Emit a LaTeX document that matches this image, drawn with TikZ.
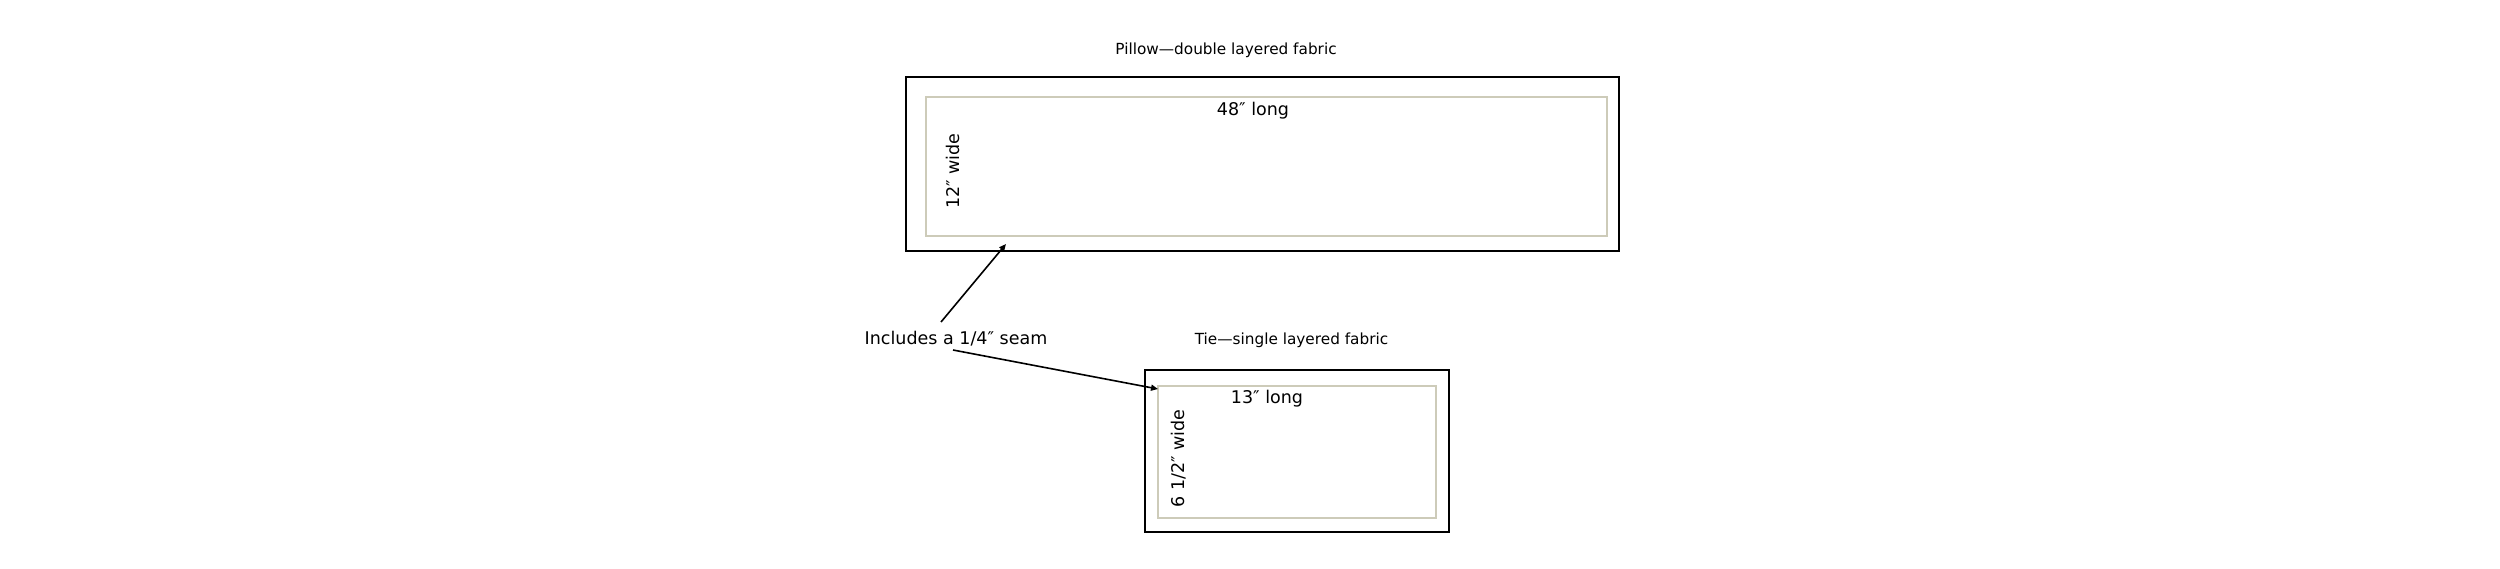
\documentclass[tikz,border=0pt]{standalone}
\usepackage{fontspec}
\setmainfont{DejaVu Sans}
\usetikzlibrary{arrows.meta}
\definecolor{seamline}{RGB}{205,203,185}
\tikzset{
  outerbox/.style={draw=black, line width=2.5pt, inner sep=0pt, fill=none},
  innerbox/.style={draw=seamline, line width=1.2pt, inner sep=0pt},
  titletext/.style={font=\fontsize{15.3}{18}\selectfont, inner sep=0pt, anchor=base},
  labeltext/.style={font=\fontsize{17.5}{21}\selectfont, inner sep=0pt},
  pointer/.style={draw=black, line width=1.6pt, -{Triangle[length=7pt,width=6pt]}}
}
\begin{document}
\begin{tikzpicture}[x=1pt,y=-1pt]
\useasboundingbox (0,0) rectangle (2500,568);
% Pillow
\node[titletext] (pillowTitle) at (1226,54) {Pillow—double layered fabric};
\node[outerbox, minimum width=713pt, minimum height=174pt] (pillowOuter) at (1262.5,164) {};
\node[innerbox, minimum width=681pt, minimum height=139pt] (pillowInner) at (1266.5,166.5) {};
\node[labeltext, anchor=base] (pillowLong) at (1253,115) {48″ long};
\node[labeltext, rotate=90] (pillowWide) at (953,171) {12″ wide};
% Tie
\node[titletext] (tieTitle) at (1291.5,344) {Tie—single layered fabric};
\node[outerbox, minimum width=304pt, minimum height=162pt] (tieOuter) at (1297,451) {};
\node[innerbox, minimum width=278pt, minimum height=132pt] (tieInner) at (1297,452) {};
\node[labeltext, anchor=base] (tieLong) at (1267,403) {13″ long};
\node[labeltext, rotate=90] (tieWide) at (1179,458.5) {6 1/2″ wide};
% Seam note
\node[labeltext, anchor=base] (seamNote) at (956,344) {Includes a 1/4″ seam};
\coordinate (noteTop) at (941,322);
\coordinate (noteBottom) at (953,350);
\coordinate (pillowSeam) at (1006,244);
\coordinate (tieSeam) at (1158,389);
\draw[pointer] (noteTop) -- (pillowSeam);
\draw[pointer] (noteBottom) -- (tieSeam);
\end{tikzpicture}
\end{document}
